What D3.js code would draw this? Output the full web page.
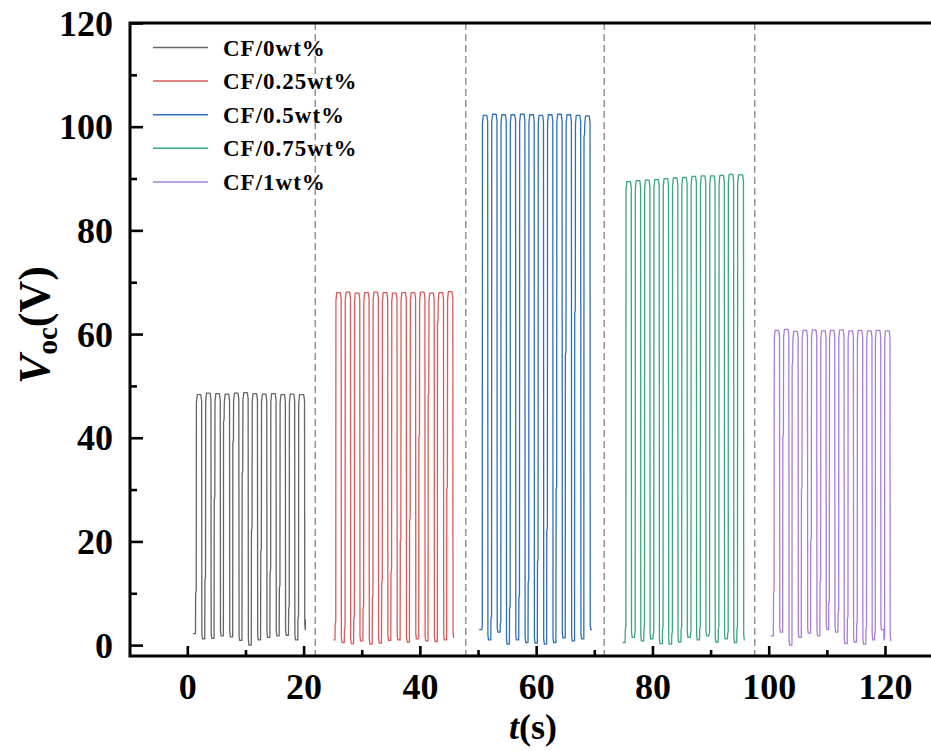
<!DOCTYPE html>
<html>
<head>
<meta charset="utf-8">
<script src="https://cdn.jsdelivr.net/npm/d3@7"></script>
<style>
  body { margin: 0; background: #fff; }
  svg { display: block; }
</style>
</head>
<body>
<div id="chart"></div>
<script>
// Chart values
const seriesNames = ["CF/0wt%", "CF/0.25wt%", "CF/0.5wt%", "CF/0.75wt%", "CF/1wt%"];
const seriesColors = ["#666666", "#dc5a5a", "#2e6fbd", "#3aa67c", "#a97ed8"];

const xMajorTicks = [0, 20, 40, 60, 80, 100, 120];
const xMinorTicks = [10, 30, 50, 70, 90, 110];
const yMajorTicks = [0, 20, 40, 60, 80, 100, 120];
const yMinorTicks = [10, 30, 50, 70, 90, 110];

// time of the dashed separators between the samples
const dividerTimes = [22.0, 47.9, 71.7, 97.6];

// first point of every trace [t, V]
const startPoints = [[1.0, 2.2], [25.1, 1.0], [50.2, 3.0], [74.9, 0.5], [100.3, 1.8]];
// last point of every trace [t, V]
const endPoints = [[20.3, 5.0], [45.9, 1.5], [69.6, 3.0], [95.9, 1.0], [121.1, 0.8]];

// pulses: [rise time, fall time, top V, bottom V after fall, level of the step on the rising edge]
const pulses0 = [
  [1.4, 2.5, 48.3, 1.2, 10.0], [3.0, 4.1, 48.6, 1.3, 12.5], [4.6, 5.7, 48.5, 1.8, 28.0],
  [6.2, 7.3, 48.4, 1.6, 43.0], [7.8, 8.9, 48.6, 0.9, 39.0], [9.4, 10.5, 48.7, 0.0, 33.0],
  [11.0, 12.1, 48.5, 1.0, 22.0], [12.6, 13.7, 48.4, 1.5, 18.0], [14.2, 15.3, 48.5, 1.8, 14.0],
  [15.8, 16.9, 48.3, 1.9, 11.0], [17.4, 18.5, 48.4, 1.0, 7.0], [19.0, 20.2, 48.3, 3.0, 5.0]
];
const pulses1 = [
  [25.4, 26.5, 68.0, 0.5, 4.0], [27.0, 28.1, 68.1, 0.3, 3.0], [28.6, 29.7, 67.9, 0.8, 5.0],
  [30.2, 31.3, 68.0, 0.2, 7.0], [31.8, 32.9, 68.1, 0.4, 9.0], [33.4, 34.5, 68.0, 0.9, 12.0],
  [35.0, 36.1, 67.9, 1.0, 14.0], [36.6, 37.7, 68.0, 0.6, 20.0], [38.2, 39.3, 68.0, 1.2, 24.0],
  [39.8, 40.9, 68.1, 0.8, 40.0], [41.4, 42.5, 67.9, 0.7, 48.0], [43.0, 44.1, 68.0, 1.0, 62.0],
  [44.6, 45.7, 68.2, 1.5, 30.0]
];
const pulses2 = [
  [50.6, 51.7, 102.2, 1.0, 3.0], [52.2, 53.3, 102.4, 2.5, 5.0], [53.8, 54.9, 102.3, 0.2, 4.0],
  [55.4, 56.5, 102.3, 1.0, 7.0], [57.0, 58.1, 102.4, 0.5, 9.0], [58.6, 59.7, 102.3, 0.4, 12.0],
  [60.2, 61.3, 102.2, 0.2, 16.0], [61.8, 62.9, 102.3, 0.5, 22.0], [63.4, 64.5, 102.4, 1.4, 30.0],
  [65.0, 66.1, 102.3, 0.8, 56.0], [66.6, 67.7, 102.2, 1.2, 64.0], [68.2, 69.3, 102.1, 3.0, 98.0]
];
const pulses3 = [
  [75.3, 76.4, 89.4, 1.5, 3.0], [76.9, 78.0, 89.6, 0.8, 2.0], [78.5, 79.6, 89.7, 1.2, 3.0],
  [80.1, 81.2, 89.8, 0.3, 2.0], [81.7, 82.8, 90.0, 0.2, 3.0], [83.3, 84.4, 90.1, 0.6, 2.0],
  [84.9, 86.0, 90.2, 1.5, 3.0], [86.5, 87.6, 90.4, 1.0, 2.0], [88.1, 89.2, 90.5, 1.8, 3.0],
  [89.7, 90.8, 90.5, 0.6, 2.0], [91.3, 92.4, 90.6, 1.2, 3.0], [92.9, 94.0, 90.8, 0.5, 2.0],
  [94.5, 95.7, 90.7, 1.0, 3.0]
];
const pulses4 = [
  [100.8, 101.9, 60.7, 2.5, 10.0], [102.4, 103.5, 60.9, 0.0, 40.0], [104.0, 105.1, 60.5, 1.5, 54.0],
  [105.6, 106.7, 60.7, 2.3, 30.0], [107.2, 108.3, 60.8, 1.8, 20.0], [108.8, 109.9, 60.6, 3.0, 12.0],
  [110.3, 111.4, 60.7, 2.5, 8.0], [111.9, 113.0, 60.8, 0.3, 6.0], [113.5, 114.6, 60.6, 0.6, 5.0],
  [115.1, 116.2, 60.7, 0.2, 4.0], [116.7, 117.8, 60.6, 1.0, 3.0], [118.2, 119.3, 60.7, 3.0, 2.0],
  [119.8, 120.9, 60.6, 0.8, 1.0]
];
const allPulses = [pulses0, pulses1, pulses2, pulses3, pulses4];

const width = 931;
const height = 751;

const x = d3.scaleLinear().domain([-9.86, 128]).range([130, 931.5]);
const y = d3.scaleLinear().domain([-2.1, 120]).range([656, 23]);

const svg = d3.select("#chart")
  .append("svg")
  .attr("width", width)
  .attr("height", height);

const serif = "'Liberation Serif', 'Times New Roman', serif";

// turn the pulse list of one sample into the outline of its trace
function tracePoints(i) {
  const pts = [startPoints[i]];
  let low = startPoints[i][1];
  allPulses[i].forEach(p => {
    const [tr, tf, hi, lo, mid] = p;
    pts.push([tr, low]);
    pts.push([tr + 0.03, mid]);
    pts.push([tr + 0.13, mid + 0.6]);
    pts.push([tr + 0.16, hi - 1.6]);
    pts.push([tr + 0.3, hi]);
    pts.push([tf - 0.18, hi]);
    pts.push([tf - 0.04, hi - 1.2]);
    pts.push([tf, lo + 1.0]);
    pts.push([tf + 0.1, lo]);
    low = lo;
  });
  pts.push(endPoints[i]);
  return pts;
}

const line = d3.line()
  .x(d => x(d[0]))
  .y(d => y(d[1]));

// dashed separators
svg.append("g")
  .selectAll("line")
  .data(dividerTimes)
  .join("line")
  .attr("x1", d => x(d)).attr("x2", d => x(d))
  .attr("y1", y.range()[1]).attr("y2", y.range()[0])
  .attr("stroke", "#7a7a7a")
  .attr("stroke-width", 1.2)
  .attr("stroke-dasharray", "7,4");

// traces
svg.append("g")
  .selectAll("path")
  .data(seriesNames.map((n, i) => i))
  .join("path")
  .attr("d", i => line(tracePoints(i)))
  .attr("fill", "none")
  .attr("stroke", i => seriesColors[i])
  .attr("stroke-width", 1.3)
  .attr("stroke-linejoin", "round");

// axes
const xAxis = svg.append("g").attr("transform", `translate(0,${y.range()[0]})`)
  .call(d3.axisBottom(x).tickValues(xMajorTicks).tickSize(-10).tickSizeOuter(0).tickPadding(17));
const xMinor = svg.append("g").attr("transform", `translate(0,${y.range()[0]})`)
  .call(d3.axisBottom(x).tickValues(xMinorTicks).tickSize(-6).tickSizeOuter(0).tickFormat(""));
const yAxis = svg.append("g").attr("transform", `translate(${x.range()[0]},0)`)
  .call(d3.axisLeft(y).tickValues(yMajorTicks).tickSize(-13).tickSizeOuter(0).tickPadding(17));
const yMinor = svg.append("g").attr("transform", `translate(${x.range()[0]},0)`)
  .call(d3.axisLeft(y).tickValues(yMinorTicks).tickSize(-7).tickSizeOuter(0).tickFormat(""));

[xAxis, xMinor, yAxis, yMinor].forEach(g => {
  g.select(".domain").remove();
  g.selectAll(".tick line").attr("stroke", "#000").attr("stroke-width", 2.6);
});
[xAxis, yAxis].forEach(g => {
  g.selectAll(".tick text")
    .attr("fill", "#000")
    .style("font-family", serif)
    .style("font-weight", "bold")
    .style("font-size", "36px");
});
yAxis.selectAll(".tick text").attr("dy", "0.34em");

// frame: left, bottom, top
svg.append("path")
  .attr("d", `M${x.range()[1] + 5},${y.range()[1]} H${x.range()[0]} V${y.range()[0]} H${x.range()[1] + 5}`)
  .attr("fill", "none")
  .attr("stroke", "#000")
  .attr("stroke-width", 3);

// axis titles
const yTitle = svg.append("text")
  .attr("transform", "translate(49,325) rotate(-90)")
  .attr("text-anchor", "middle")
  .style("font-family", serif)
  .style("font-weight", "bold")
  .style("font-size", "44px");
yTitle.append("tspan").style("font-style", "italic").text("V");
yTitle.append("tspan").attr("dy", 8).style("font-size", "29px").text("oc");
yTitle.append("tspan").attr("dy", -8).text("(V)");

const xTitle = svg.append("text")
  .attr("x", 533)
  .attr("y", 739)
  .attr("text-anchor", "middle")
  .style("font-family", serif)
  .style("font-weight", "bold")
  .style("font-size", "36px");
xTitle.append("tspan").style("font-style", "italic").text("t");
xTitle.append("tspan").text("(s)");

// legend
const legend = svg.append("g")
  .selectAll("g")
  .data(seriesNames)
  .join("g")
  .attr("transform", (d, i) => `translate(0,${47.5 + i * 33.6})`);
legend.append("line")
  .attr("x1", 153).attr("x2", 208)
  .attr("stroke", (d, i) => seriesColors[i])
  .attr("stroke-width", 1.5);
legend.append("text")
  .attr("x", 223)
  .attr("dy", "0.35em")
  .style("font-family", serif)
  .style("font-weight", "bold")
  .style("font-size", "23px")
  .style("letter-spacing", "1px")
  .text(d => d);
</script>
</body>
</html>
